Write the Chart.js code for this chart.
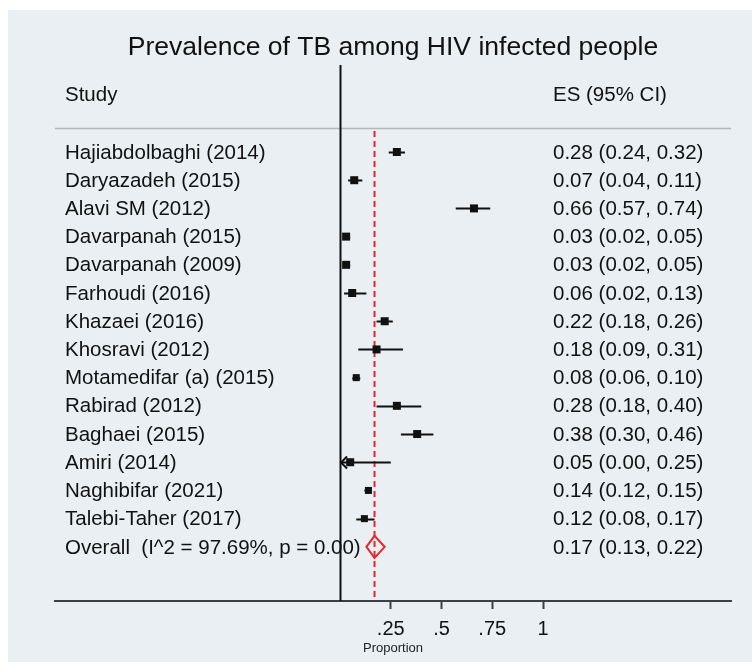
<!DOCTYPE html>
<html>
<head>
<meta charset="utf-8">
<script src="https://cdn.jsdelivr.net/npm/chart.js@4.4.0/dist/chart.umd.min.js"></script>
<style>
  html, body { margin: 0; padding: 0; background: #fff; }
  #wrap { width: 752px; height: 662px; }
</style>
</head>
<body>
<div id="wrap"><canvas id="forest" width="752" height="662"></canvas></div>
<script>
// ── Dados ──
const studies = [
  'Hajiabdolbaghi (2014)', 'Daryazadeh (2015)', 'Alavi SM (2012)', 'Davarpanah (2015)',
  'Davarpanah (2009)', 'Farhoudi (2016)', 'Khazaei (2016)', 'Khosravi (2012)',
  'Motamedifar (a) (2015)', 'Rabirad (2012)', 'Baghaei (2015)', 'Amiri (2014)',
  'Naghibifar (2021)', 'Talebi-Taher (2017)'
];
const es    = [0.28, 0.07, 0.66, 0.03, 0.03, 0.06, 0.22, 0.18, 0.08, 0.28, 0.38, 0.05, 0.14, 0.12];
const ciLo  = [0.24, 0.04, 0.57, 0.02, 0.02, 0.02, 0.18, 0.09, 0.06, 0.18, 0.30, 0.00, 0.12, 0.08];
const ciHi  = [0.32, 0.11, 0.74, 0.05, 0.05, 0.13, 0.26, 0.31, 0.10, 0.40, 0.46, 0.25, 0.15, 0.17];
const boxSize = [8, 8, 8, 8, 8, 8, 8, 8, 7, 8, 8, 8, 7, 7]; // lado do quadrado (peso)
const overall = { label: 'Overall  (I^2 = 97.69%, p = 0.00)', es: 0.17, lo: 0.13, hi: 0.22 };
const xTicks = [0.25, 0.5, 0.75, 1];
const xTickLabels = ['.25', '.5', '.75', '1'];

const fmt = v => v.toFixed(2);
const FONT = '"Liberation Sans", Arial, sans-serif';
const TEXT_X = 65, ES_X = 553;

// ── Plugin do forest plot ──
const forestPlugin = {
  id: 'forest',
  beforeDraw(chart) {
    const c = chart.ctx;
    c.save();
    c.fillStyle = '#ffffff';
    c.fillRect(0, 0, chart.width, chart.height);
    c.fillStyle = '#e9eff2';
    c.fillRect(8, 10, chart.width - 8, chart.height - 10);
    c.restore();
  },
  beforeDatasetsDraw(chart) {
    const c = chart.ctx;
    const x = chart.scales.x, y = chart.scales.y;
    const area = chart.chartArea;
    c.save();
    // linha cinza do cabeçalho
    c.strokeStyle = '#b4b8bb'; c.lineWidth = 1.5;
    c.beginPath(); c.moveTo(area.left, 128.5); c.lineTo(area.right, 128.5); c.stroke();
    // linha vertical no zero
    const x0 = Math.round(x.getPixelForValue(0)) + 0.5;
    c.strokeStyle = '#111'; c.lineWidth = 2;
    c.beginPath(); c.moveTo(x0, area.top); c.lineTo(x0, area.bottom); c.stroke();
    // linha tracejada vermelha (efeito global)
    const xo = x.getPixelForValue(overall.es);
    c.strokeStyle = '#e8262a'; c.lineWidth = 2; c.setLineDash([6, 4]);
    c.beginPath(); c.moveTo(xo, 131); c.lineTo(xo, area.bottom); c.stroke();
    c.setLineDash([]);
    // intervalos de confiança
    c.strokeStyle = '#111'; c.lineWidth = 2;
    studies.forEach((s, i) => {
      const py = Math.round(y.getPixelForValue(i)) + 0.5;
      const xl = x.getPixelForValue(ciLo[i]), xh = x.getPixelForValue(ciHi[i]);
      c.beginPath(); c.moveTo(xl, py); c.lineTo(xh, py); c.stroke();
      if (ciLo[i] <= 0) {
        c.beginPath(); c.moveTo(xl + 7, py - 6); c.lineTo(xl + 1, py); c.lineTo(xl + 7, py + 6); c.stroke();
      }
    });
    // diamante global
    const yo = y.getPixelForValue(studies.length);
    const dl = x.getPixelForValue(overall.lo), dh = x.getPixelForValue(overall.hi);
    c.strokeStyle = '#e8262a'; c.lineWidth = 2;
    c.beginPath();
    c.moveTo(dl, yo); c.lineTo(xo, yo - 11); c.lineTo(dh, yo); c.lineTo(xo, yo + 11); c.closePath();
    c.stroke();
    c.restore();
  },
  afterDraw(chart) {
    const c = chart.ctx;
    const y = chart.scales.y;
    c.save();
    c.fillStyle = '#111';
    c.textBaseline = 'middle';
    // título
    c.font = '26.5px ' + FONT; c.textAlign = 'center';
    c.fillText('Prevalence of TB among HIV infected people', 393, 48);
    // cabeçalhos
    c.font = '20.5px ' + FONT; c.textAlign = 'left';
    c.fillText('Study', TEXT_X, 95);
    c.fillText('ES (95% CI)', ES_X, 95);
    studies.forEach((s, i) => {
      const py = y.getPixelForValue(i) + 1;
      c.fillText(s, TEXT_X, py);
      c.fillText(fmt(es[i]) + ' (' + fmt(ciLo[i]) + ', ' + fmt(ciHi[i]) + ')', ES_X, py);
    });
    const yo = y.getPixelForValue(studies.length) + 1;
    c.fillText(overall.label, TEXT_X, yo);
    c.fillText(fmt(overall.es) + ' (' + fmt(overall.lo) + ', ' + fmt(overall.hi) + ')', ES_X, yo);
    c.restore();
  }
};

new Chart(document.getElementById('forest').getContext('2d'), {
  type: 'scatter',
  data: {
    datasets: [{
      data: es.map((v, i) => ({ x: v, y: i })),
      pointStyle: 'rect',
      pointRadius: boxSize.map(s => s / Math.SQRT2),
      pointHoverRadius: boxSize.map(s => s / Math.SQRT2),
      backgroundColor: '#111',
      borderColor: '#111',
      borderWidth: 0
    }]
  },
  plugins: [forestPlugin],
  options: {
    responsive: false, animation: false, devicePixelRatio: 1,
    layout: { padding: { left: 55, right: 21, top: 65, bottom: 0 } },
    plugins: { legend: { display: false }, tooltip: { enabled: false }, title: { display: false } },
    scales: {
      x: {
        type: 'linear', min: -1.404, max: 1.926,
        afterBuildTicks: s => { s.ticks = xTicks.map(v => ({ value: v })); },
        afterFit: s => { s.height = 61; },
        ticks: {
          color: '#111', padding: 8, font: { family: FONT, size: 20 },
          autoSkip: false, maxRotation: 0,
          callback: (v) => xTickLabels[xTicks.indexOf(v)]
        },
        grid: { drawOnChartArea: false, drawTicks: true, tickLength: 8, tickWidth: 2, color: '#3c4043' },
        border: { display: true, color: '#3c4043', width: 2 },
        title: { display: true, text: 'Proportion', color: '#222', font: { family: FONT, size: 13 }, padding: { top: 0, bottom: 6 } }
      },
      y: {
        type: 'linear', reverse: true, min: -3.085, max: 15.92, display: false
      }
    }
  }
});
</script>
</body>
</html>
